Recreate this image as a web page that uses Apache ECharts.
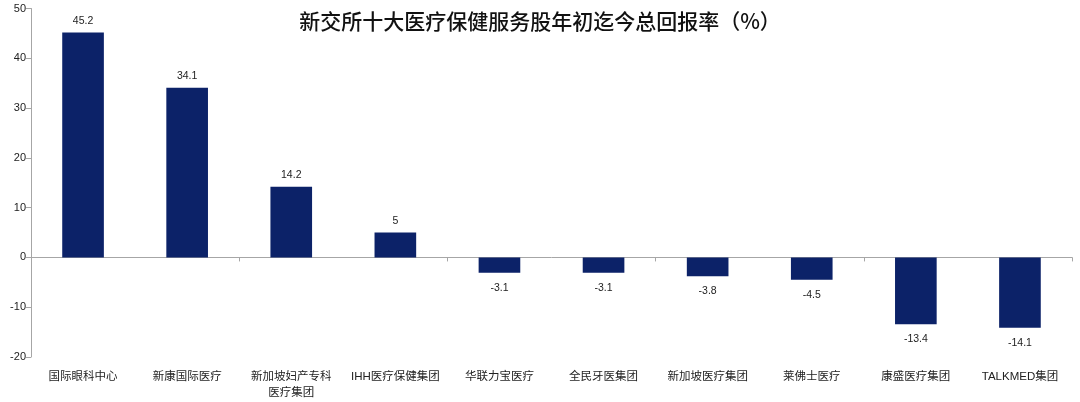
<!DOCTYPE html>
<html><head><meta charset="utf-8">
<script src="https://cdn.jsdelivr.net/npm/echarts@6/dist/echarts.min.js"></script>
<style>html,body{margin:0;padding:0;background:#fff}#c{width:1080px;height:402px}</style>
</head><body><div id="c"></div>
<script>
const titleText = "新交所十大医疗保健服务股年初迄今总回报率（%）";
const categories = ["国际眼科中心","新康国际医疗","新加坡妇产专科\n医疗集团","IHH医疗保健集团","华联力宝医疗","全民牙医集团","新加坡医疗集团","莱佛士医疗","康盛医疗集团","TALKMED集团"];
const returns = [45.2, 34.1, 14.2, 5, -3.1, -3.1, -3.8, -4.5, -13.4, -14.1];
const yTicks = {min: -20, max: 50, interval: 10};

const chart = echarts.init(document.getElementById('c'), null, {renderer: 'canvas'});
const axisColor = '#a6a6a6';
const textColor = '#222';
const font = '"Liberation Sans","Noto Sans CJK SC",sans-serif';
chart.setOption({
  animation: false,
  backgroundColor: '#fff',
  title: {
    text: titleText, left: 'center', top: 6,
    textStyle: {fontFamily: '"Noto Sans CJK SC",serif', fontSize: 21, fontWeight: 500, color: '#111'}
  },
  grid: {left: 31, right: 8, top: 8.5, bottom: 45, containLabel: false},
  xAxis: [{
    type: 'category', data: categories,
    axisLine: {onZero: true, lineStyle: {color: axisColor, width: 1}},
    axisTick: {show: true, length: 4, lineStyle: {color: axisColor}},
    axisLabel: {show: false}
  }, {
    type: 'category', data: categories, position: 'bottom',
    axisLine: {show: false, onZero: false}, axisTick: {show: false},
    axisLabel: {show: true, margin: 12, color: textColor, fontSize: 11.5, fontFamily: font, lineHeight: 16, interval: 0}
  }],
  yAxis: {
    type: 'value', min: yTicks.min, max: yTicks.max, interval: yTicks.interval,
    splitLine: {show: false},
    axisLine: {show: true, lineStyle: {color: axisColor}},
    axisTick: {show: true, length: 5, lineStyle: {color: axisColor}},
    axisLabel: {color: textColor, fontSize: 11, fontFamily: font, margin: 5}
  },
  series: [{
    type: 'bar', xAxisIndex: 0, barWidth: '40%',
    itemStyle: {color: '#0c2268'},
    label: {show: true, fontSize: 10.5, fontFamily: font, color: textColor},
    data: returns.map(v => ({value: v, label: v >= 0 ? {position: 'top', distance: 6} : {position: 'bottom', distance: 10}}))
  }]
});
</script></body></html>
